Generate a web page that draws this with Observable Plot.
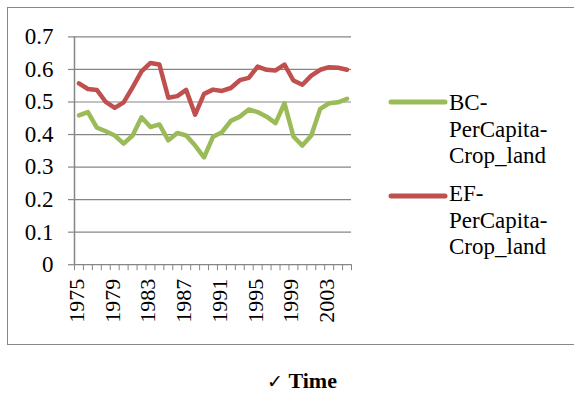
<!DOCTYPE html>
<html>
<head>
<meta charset="utf-8">
<script src="https://cdn.jsdelivr.net/npm/d3@7"></script>
<script src="https://cdn.jsdelivr.net/npm/@observablehq/plot@0.6"></script>
<style>
  body { margin: 0; background: #fff; font-family: 'Liberation Serif'; }
  #wrap { position: relative; width: 574px; height: 400px; overflow: hidden; }
  #frame { position: absolute; left: 7px; top: 7px; width: 600px; height: 336px; border: 1px solid #888; box-sizing: content-box; }
  #chart { position: absolute; left: 0; top: 0; }
  .leg { position: absolute; left: 449px; font-family: 'Liberation Serif'; font-size: 23px; line-height: 26.5px; color: #000; }
  .sw { position: absolute; left: 388px; }
  #xtitle { position: absolute; left: 267px; top: 368px; font-family: 'Liberation Serif'; font-size: 22px; color: #000; white-space: nowrap; }
  #chart svg text { font-family: 'Liberation Serif'; }
</style>
</head>
<body>
<div id="wrap">
  <div id="frame"></div>
  <div id="chart"></div>
  <svg class="sw" style="top:96px" width="62" height="12"><line x1="3" y1="6" x2="57" y2="6" stroke="#9BBB59" stroke-width="5" stroke-linecap="round"/></svg>
  <div class="leg" style="top:90px">BC-<br>PerCapita-<br>Crop_land</div>
  <svg class="sw" style="top:190px" width="62" height="12"><line x1="3" y1="6" x2="57" y2="6" stroke="#C0504D" stroke-width="5" stroke-linecap="round"/></svg>
  <div class="leg" style="top:181px">EF-<br>PerCapita-<br>Crop_land</div>
  <div id="xtitle"><span style="font-family:'DejaVu Sans';font-size:19px">✓</span> <b>Time</b></div>
</div>
<script>
const years = [1975,1976,1977,1978,1979,1980,1981,1982,1983,1984,1985,1986,1987,1988,1989,1990,1991,1992,1993,1994,1995,1996,1997,1998,1999,2000,2001,2002,2003,2004,2005];
const bcPerCapitaCropland = [0.459,0.469,0.421,0.410,0.397,0.372,0.397,0.453,0.423,0.431,0.382,0.405,0.397,0.366,0.330,0.393,0.407,0.442,0.455,0.477,0.469,0.455,0.435,0.496,0.394,0.366,0.397,0.479,0.496,0.499,0.510];
const efPerCapitaCropland = [0.557,0.540,0.537,0.500,0.482,0.499,0.545,0.594,0.620,0.615,0.513,0.518,0.537,0.461,0.525,0.538,0.534,0.543,0.567,0.574,0.609,0.599,0.597,0.615,0.566,0.553,0.581,0.599,0.607,0.605,0.599];
const yTicks = [0,0.1,0.2,0.3,0.4,0.5,0.6,0.7];
const yLabels = ["0","0.1","0.2","0.3","0.4","0.5","0.6","0.7"];
const xLabelYears = [1975,1979,1983,1987,1991,1995,1999,2003];

const bcData = years.map((y,i) => ({year: y, value: bcPerCapitaCropland[i]}));
const efData = years.map((y,i) => ({year: y, value: efPerCapitaCropland[i]}));
const bounds = [years[0]-0.5].concat(years.map(y => y+0.5));

const grid = "#868686";
const serif = "Liberation Serif";
const plot = Plot.plot({
  width: 574,
  height: 345,
  marginLeft: 74,
  marginRight: 223,
  marginTop: 36.4,
  marginBottom: 80.8,
  style: {fontFamily: serif, fontSize: "22px", color: "#000", background: "transparent", overflow: "visible"},
  x: {domain: [bounds[0], bounds[bounds.length-1]]},
  y: {domain: [0, 0.7]},
  marks: [
    Plot.ruleY(yTicks, {stroke: grid, strokeWidth: 1.2, strokeOpacity: 1}),
    Plot.ruleX([bounds[0]], {y1: 0, y2: 0.7, stroke: grid, strokeWidth: 1.5, strokeOpacity: 1}),
    Plot.axisY({ticks: yTicks, tickFormat: (d,i) => yLabels[i], tickSize: 6, tickPadding: 15, stroke: grid, strokeOpacity: 1, strokeWidth: 1.2, label: null, fontSize: 23}),
    Plot.axisX({ticks: bounds, tickFormat: () => "", tickSize: 6, stroke: grid, strokeOpacity: 1, strokeWidth: 1, label: null}),
    Plot.axisX({ticks: xLabelYears, tickFormat: d => String(d), tickSize: 0, tickPadding: 14, tickRotate: -90, label: null, dx: -2}),
    Plot.line(bcData, {x: "year", y: "value", stroke: "#9BBB59", strokeWidth: 4.5, strokeLinejoin: "round", strokeLinecap: "round"}),
    Plot.line(efData, {x: "year", y: "value", stroke: "#C0504D", strokeWidth: 4.5, strokeLinejoin: "round", strokeLinecap: "round"})
  ]
});
document.getElementById("chart").appendChild(plot);
</script>
</body>
</html>
